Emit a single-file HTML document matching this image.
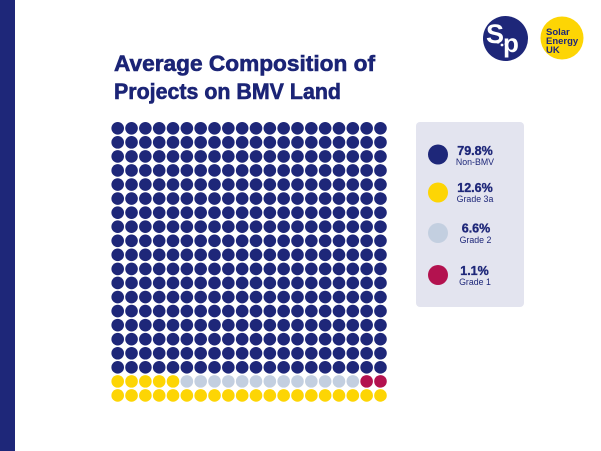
<!DOCTYPE html>
<html>
<head>
<meta charset="utf-8">
<style>
  html, body { margin: 0; padding: 0; background: #ffffff; }
  body { width: 601px; height: 451px; overflow: hidden; position: relative; }
  svg { display: block; }
</style>
</head>
<body>
<svg width="601" height="451" viewBox="0 0 601 451" xmlns="http://www.w3.org/2000/svg" font-family="'Liberation Sans', sans-serif">
  <rect x="0" y="0" width="601" height="451" fill="#ffffff"/>
  <!-- left bar -->
  <rect x="0" y="0" width="15" height="451" fill="#1e2779"/>

  <!-- title -->
  <text x="114" y="71" font-size="22" font-weight="bold" fill="#1b2476" stroke="#1b2476" stroke-width="0.6" textLength="261" lengthAdjust="spacingAndGlyphs">Average Composition of</text>
  <text x="114" y="99" font-size="22" font-weight="bold" fill="#1b2476" stroke="#1b2476" stroke-width="0.6" textLength="227" lengthAdjust="spacingAndGlyphs">Projects on BMV Land</text>

  <!-- logos -->
  <circle cx="505.5" cy="38.5" r="22.5" fill="#1e2779"/>
  <text x="486" y="43" font-size="27" font-weight="bold" fill="#ffffff">S</text>
  <text x="503" y="52" font-size="26" font-weight="bold" fill="#ffffff">p</text>
  <circle cx="498" cy="42" r="1.6" fill="#ffffff"/>
  <circle cx="502" cy="45" r="1.4" fill="#ffffff"/>
  <circle cx="506" cy="44" r="1.4" fill="#ffffff"/>
  <circle cx="562" cy="38" r="21.5" fill="#fdd504"/>
  <text x="546" y="35" font-size="9.5" font-weight="bold" fill="#1e2779">Solar</text>
  <text x="546" y="44" font-size="9.5" font-weight="bold" fill="#1e2779">Energy</text>
  <text x="546" y="53" font-size="9.5" font-weight="bold" fill="#1e2779">UK</text>

  <!-- waffle grid -->
  <g id="grid"></g>

  <!-- legend -->
  <rect x="416" y="122" width="108" height="185" rx="4" ry="4" fill="#e3e4ef"/>
  <circle cx="438" cy="154.5" r="10" fill="#1e2779"/>
  <circle cx="438" cy="192.5" r="10" fill="#fdd504"/>
  <circle cx="438" cy="233" r="10" fill="#c3cfe0"/>
  <circle cx="438" cy="275" r="10" fill="#b3124f"/>

  <g fill="#1e2779" text-anchor="middle">
    <g stroke="#1e2779" stroke-width="0.35">
      <text x="475" y="155" font-size="12.5" font-weight="bold">79.8%</text>
      <text x="475" y="192" font-size="12.5" font-weight="bold">12.6%</text>
      <text x="476" y="232.5" font-size="12.5" font-weight="bold">6.6%</text>
      <text x="474.5" y="275" font-size="12.5" font-weight="bold">1.1%</text>
    </g>
    <text x="475" y="165" font-size="8.8">Non-BMV</text>
    <text x="475" y="202" font-size="8.8">Grade 3a</text>
    <text x="475.5" y="243" font-size="8.8">Grade 2</text>
    <text x="475" y="285" font-size="8.8">Grade 1</text>
  </g>
</svg>
<script>
(function(){
  var ns = "http://www.w3.org/2000/svg";
  var g = document.getElementById("grid");
  var navy="#1e2779", yellow="#fdd504", grey="#c3cfe0", red="#b3124f";
  for (var r=0;r<20;r++){
    for (var c=0;c<20;c++){
      var col = navy;
      if (r===18){ col = c<5 ? yellow : (c<18 ? grey : red); }
      if (r===19){ col = yellow; }
      var el = document.createElementNS(ns,"circle");
      el.setAttribute("cx",(117.7+c*13.83).toFixed(2));
      el.setAttribute("cy",(128.3+r*14.06).toFixed(2));
      el.setAttribute("r","6.3");
      el.setAttribute("fill",col);
      g.appendChild(el);
    }
  }
})();
</script>
</body>
</html>
